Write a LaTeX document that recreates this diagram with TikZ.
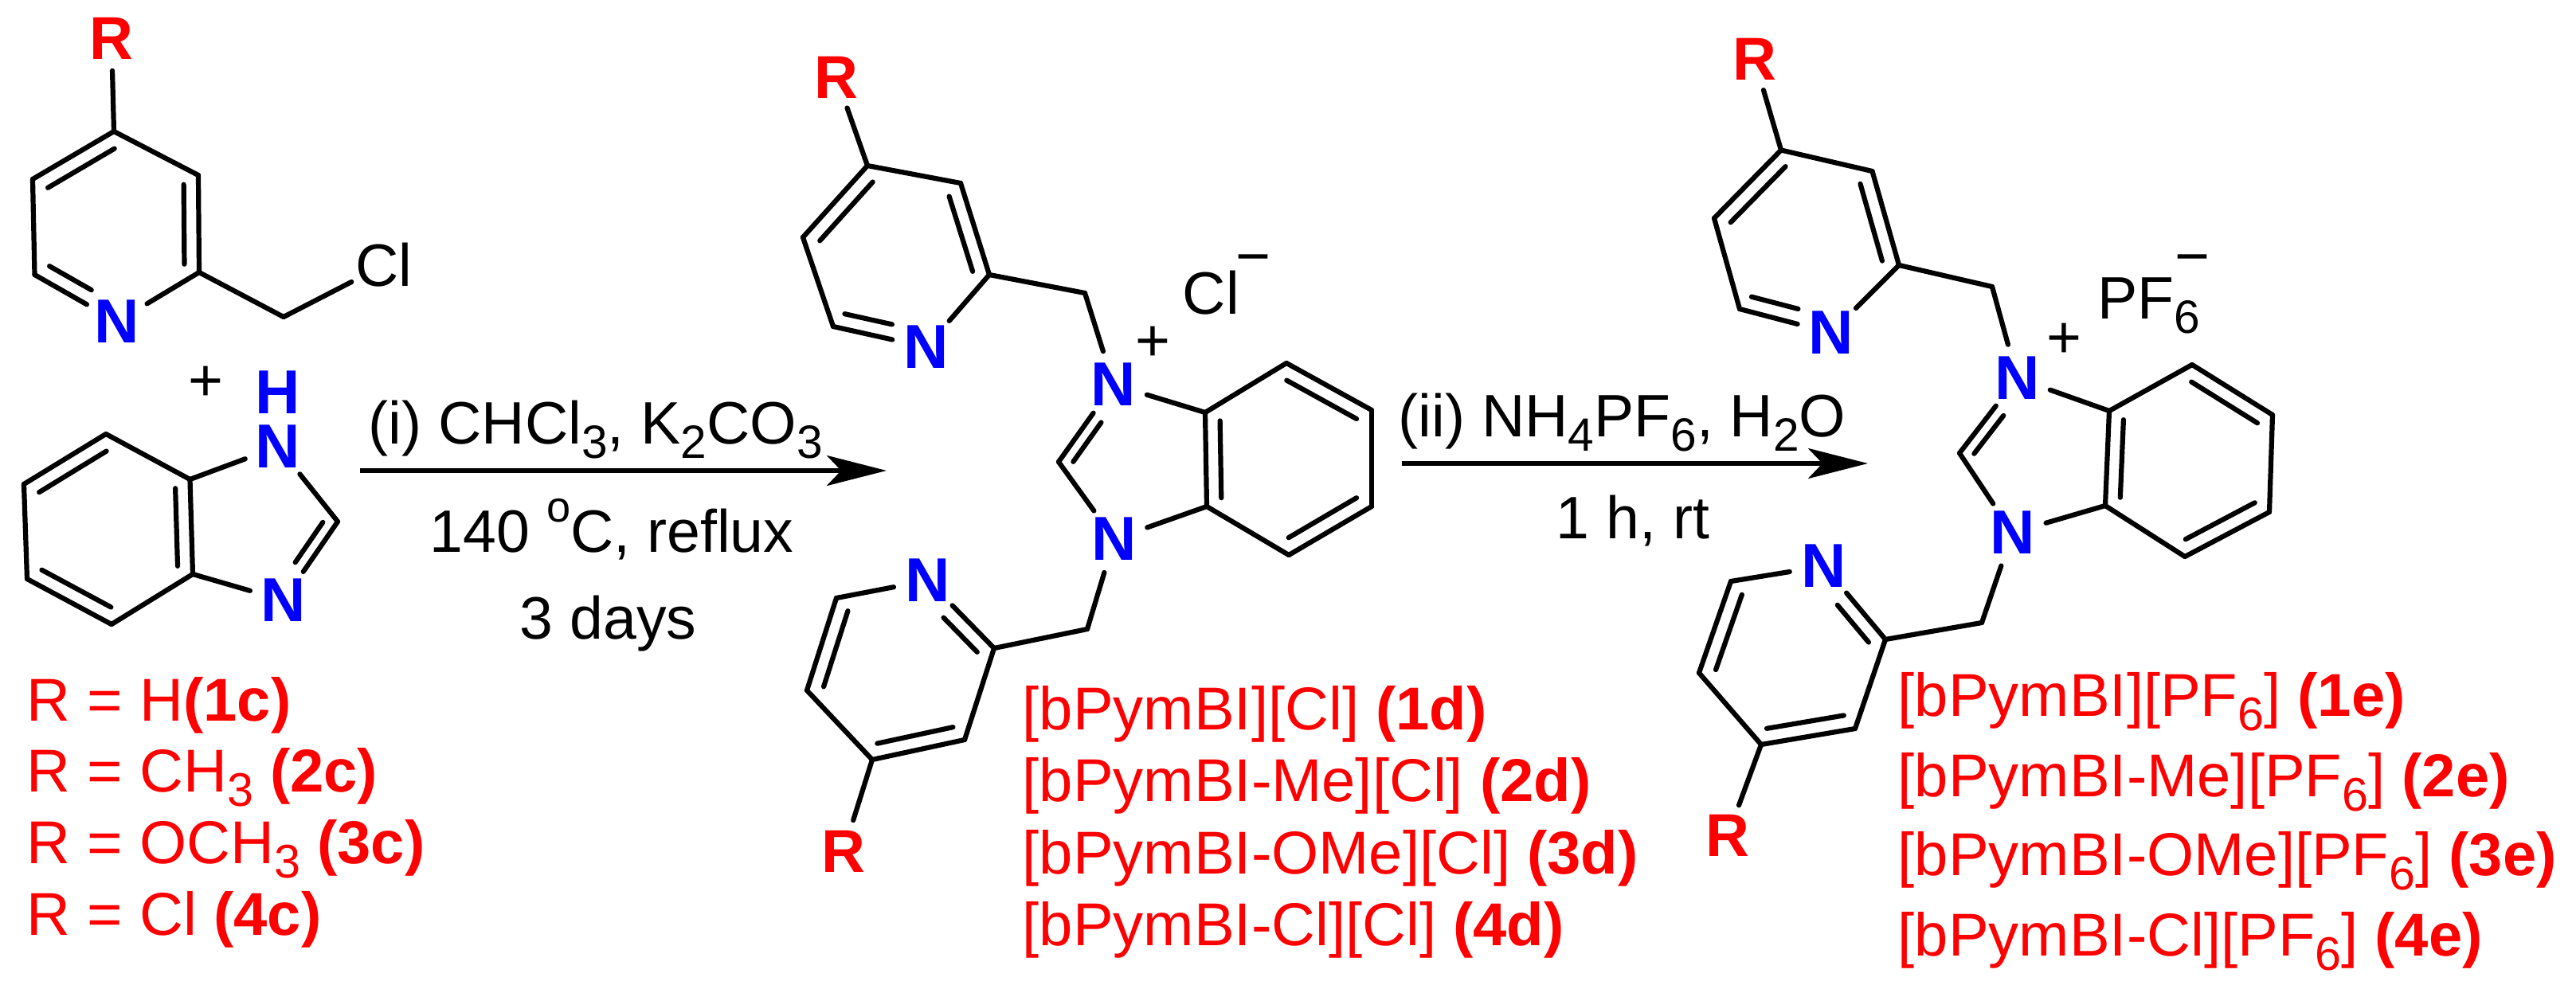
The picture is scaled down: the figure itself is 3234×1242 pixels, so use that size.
\documentclass[tikz,border=0pt]{standalone}
\usepackage{fontspec}
\usepackage{tikz}
\usetikzlibrary{calc,arrows.meta}
\setmainfont{Liberation Sans}
\definecolor{rgroup}{RGB}{255, 0, 0}
\definecolor{nitrogen}{RGB}{0, 0, 255}
\newcommand{\lowr}[1]{\raisebox{-.24em}{\scalebox{.78}{#1}}}
\newcommand{\uppr}[1]{\raisebox{.5em}{\scalebox{.72}{#1}}}
% ring double bond, the inner line leans to the ring centre
\newcommand{\dbond}[3]{%
	\draw[bond](#1) -- (#2);
	\draw[bond]($(#1)!.18!(#3)$) -- ($(#2)!.18!(#3)$);}
% same, but #2 is a labelled atom and the inner line stops short of it
\newcommand{\nbond}[3]{%
	\draw[bond](#1) -- (#2);
	\draw[bond]($(#1)!.18!(#3)$) -- ($($(#1)!.18!(#3)$)!.62!($(#2)!.18!(#3)$)$);}
\tikzset{
	bond/.style={line width=1.55pt, line cap=round},
	rxn/.style={line width=1.35pt, -{Stealth[length=18.75pt,width=9.5pt,inset=4.5pt]}},
	natom/.style={circle, inner sep=0, minimum size=21.5pt, color=nitrogen, font=\fontsize{19.5}{20}\selectfont\bfseries},
	hatom/.style={inner sep=0, color=nitrogen, font=\fontsize{19.5}{20}\selectfont\bfseries},
	ratom/.style={circle, inner sep=0, minimum size=20pt, color=rgroup, font=\fontsize{19}{20}\selectfont\bfseries},
	clatom/.style={circle, inner sep=0, minimum size=22pt, font=\fontsize{18.8}{20}\selectfont},
	txt/.style={anchor=base west, inner sep=0, font=\fontsize{18.8}{20}\selectfont},
	redtxt/.style={anchor=base west, inner sep=0, color=rgroup, font=\fontsize{19}{20}\selectfont}
}
\begin{document}
\begin{tikzpicture}[x=0.25pt,y=-0.25pt]
	\useasboundingbox (0,0) rectangle (3234,1242);

	% chloromethyl pyridine
	\node[ratom] (ar) at (140,48) {R};
	\node[natom] (an) at (147,404) {N};
	\node[clatom] (acl) at (482,333) {Cl};
	\coordinate (a2) at (250,342);
	\coordinate (a3) at (249,220);
	\coordinate (a4) at (143,165);
	\coordinate (a5) at (41,225);
	\coordinate (a6) at (43.5,345);
	\coordinate (am) at (356,398);
	\coordinate (ac) at (147,285);
	\draw[bond](ar) -- (a4);
	\dbond{a4}{a5}{ac}
	\dbond{a3}{a2}{ac}
	\nbond{a6}{an}{ac}
	\draw[bond](a4) -- (a3);
	\draw[bond](a5) -- (a6);
	\draw[bond](a2) -- (an);
	\draw[bond](a2) -- (am);
	\draw[bond](am) -- (acl);

	\node[txt] (plus) at (236,503) {+};

	% benzimidazole
	\node[natom, minimum size=0pt] (bn1) at (349,561) {N};
	\node[hatom] (bh) at (349,493) {H};
	\node[natom] (bn3) at (356,754) {N};
	\coordinate (b2) at (424,655);
	\coordinate (b3a) at (242,721);
	\coordinate (b7a) at (238.5,602);
	\coordinate (b7) at (133,545);
	\coordinate (b6) at (30,608);
	\coordinate (b5) at (34,727);
	\coordinate (b4) at (140,784);
	\coordinate (bc) at (136.5,664.5);
	\coordinate (bi) at (320,660);
	\draw[bond, shorten <=1.1pt](bn1) -- (b2);
	\nbond{b2}{bn3}{bi}
	\draw[bond](bn3) -- (b3a);
	\draw[bond, shorten <=1.1pt](bn1) -- (b7a);
	\dbond{b7a}{b3a}{bc}
	\draw[bond](b7a) -- (b7);
	\dbond{b7}{b6}{bc}
	\draw[bond](b6) -- (b5);
	\dbond{b5}{b4}{bc}
	\draw[bond](b4) -- (b3a);

	% R list, left
	\node[redtxt] (l1c) at (33,905) {R = H\textbf{(1c)}};
	\node[redtxt] (l2c) at (33,994) {R = CH\lowr{3} \textbf{(2c)}};
	\node[redtxt] (l3c) at (33,1084) {R = OCH\lowr{3} \textbf{(3c)}};
	\node[redtxt] (l4c) at (33,1174) {R = Cl \textbf{(4c)}};

	% first step
	\coordinate (s1) at (452,591);
	\coordinate (t1) at (1113,591);
	\draw[rxn](s1) -- (t1);
	\node[txt] (i1) at (462,557) {(i) CHCl\lowr{3}, K\lowr{2}CO\lowr{3}};
	\node[txt] (i2) at (539,693) {140 \uppr{o}C, reflux};
	\node[txt] (i3) at (652,802) {3 days};

	% chloride salt, upper pyridine
	\node[ratom] (dr) at (1050,97) {R};
	\node[natom] (dn) at (1163,436) {N};
	\coordinate (d2) at (1242,345);
	\coordinate (d3) at (1206,230);
	\coordinate (d4) at (1089,208);
	\coordinate (d5) at (1008,298);
	\coordinate (d6) at (1046,410);
	\coordinate (dm) at (1362,368);
	\coordinate (dc) at (1126,322);
	\draw[bond](dr) -- (d4);
	\dbond{d4}{d5}{dc}
	\dbond{d3}{d2}{dc}
	\nbond{d6}{dn}{dc}
	\draw[bond](d4) -- (d3);
	\draw[bond](d5) -- (d6);
	\draw[bond](d2) -- (dn);
	\draw[bond](d2) -- (dm);

	% chloride salt, benzimidazolium
	\node[natom] (dn1) at (1398,483) {N};
	\node[natom] (dn3) at (1399,677) {N};
	\coordinate (dci) at (1329,580);
	\coordinate (dt) at (1513,518);
	\coordinate (db) at (1515,636);
	\coordinate (d7) at (1615,456);
	\coordinate (d8) at (1722,515);
	\coordinate (d9) at (1722,636);
	\coordinate (d10) at (1618,697);
	\coordinate (di) at (1431,579);
	\coordinate (dz) at (1616.5,576);
	\draw[bond](dm) -- (dn1);
	\nbond{dci}{dn1}{di}
	\draw[bond](dci) -- (dn3);
	\draw[bond](dn1) -- (dt);
	\draw[bond](dn3) -- (db);
	\dbond{dt}{db}{dz}
	\draw[bond](dt) -- (d7);
	\dbond{d7}{d8}{dz}
	\draw[bond](d8) -- (d9);
	\dbond{d9}{d10}{dz}
	\draw[bond](d10) -- (db);
	\node[txt] (dplus) at (1425,453) {+};
	\node[txt] (dcl) at (1484,394) {Cl};
	\node[txt] (dminus) at (1551,347) {−};

	% chloride salt, lower pyridine
	\node[ratom] (er) at (1059,1069) {R};
	\node[natom] (en) at (1165,729) {N};
	\coordinate (e2) at (1248,814);
	\coordinate (e3) at (1211,929);
	\coordinate (e4) at (1095,954);
	\coordinate (e5) at (1013,867);
	\coordinate (e6) at (1050,751);
	\coordinate (em) at (1365,790);
	\coordinate (ec) at (1130,841);
	\draw[bond](er) -- (e4);
	\dbond{e4}{e3}{ec}
	\dbond{e5}{e6}{ec}
	\nbond{e2}{en}{ec}
	\draw[bond](e3) -- (e2);
	\draw[bond](e5) -- (e4);
	\draw[bond](e6) -- (en);
	\draw[bond](e2) -- (em);
	\draw[bond](em) -- (dn3);

	% names, chloride salts
	\node[redtxt] (l1d) at (1283,916) {[bPymBI][Cl] \textbf{(1d)}};
	\node[redtxt] (l2d) at (1283,1006) {[bPymBI-Me][Cl] \textbf{(2d)}};
	\node[redtxt] (l3d) at (1283,1097) {[bPymBI-OMe][Cl] \textbf{(3d)}};
	\node[redtxt] (l4d) at (1283,1187) {[bPymBI-Cl][Cl] \textbf{(4d)}};

	% second step
	\coordinate (s2) at (1760,582);
	\coordinate (t2) at (2345,582);
	\draw[rxn](s2) -- (t2);
	\node[txt] (j1) at (1755,548) {(ii) NH\lowr{4}PF\lowr{6}, H\lowr{2}O};
	\node[txt] (j2) at (1953,676) {1 h, rt};

	% hexafluorophosphate salt, upper pyridine
	\node[ratom] (fr) at (2202.5,74) {R};
	\node[natom] (fn) at (2299,418) {N};
	\coordinate (f2) at (2384,333);
	\coordinate (f3) at (2350.5,215);
	\coordinate (f4) at (2236,188.5);
	\coordinate (f5) at (2152,274);
	\coordinate (f6) at (2184,388);
	\coordinate (fm) at (2501,360);
	\coordinate (fc) at (2267,303);
	\draw[bond](fr) -- (f4);
	\dbond{f4}{f5}{fc}
	\dbond{f3}{f2}{fc}
	\nbond{f6}{fn}{fc}
	\draw[bond](f4) -- (f3);
	\draw[bond](f5) -- (f6);
	\draw[bond](f2) -- (fn);
	\draw[bond](f2) -- (fm);

	% hexafluorophosphate salt, benzimidazolium
	\node[natom] (fn1) at (2532.5,475) {N};
	\node[natom] (fn3) at (2526.5,669) {N};
	\coordinate (fci) at (2460,569);
	\coordinate (ft) at (2648,516);
	\coordinate (fb) at (2643,635);
	\coordinate (f7) at (2752,458);
	\coordinate (f8) at (2853,521);
	\coordinate (f9) at (2849,643);
	\coordinate (f10) at (2743,699);
	\coordinate (fi) at (2562,573);
	\coordinate (fz) at (2747.5,578);
	\draw[bond](fm) -- (fn1);
	\nbond{fci}{fn1}{fi}
	\draw[bond](fci) -- (fn3);
	\draw[bond](fn1) -- (ft);
	\draw[bond](fn3) -- (fb);
	\dbond{ft}{fb}{fz}
	\draw[bond](ft) -- (f7);
	\dbond{f7}{f8}{fz}
	\draw[bond](f8) -- (f9);
	\dbond{f9}{f10}{fz}
	\draw[bond](f10) -- (fb);
	\node[txt] (fplus) at (2569,449) {+};
	\node[txt] (fpf) at (2633,400) {PF\lowr{6}};
	\node[txt] (fminus) at (2730,347) {−};

	% hexafluorophosphate salt, lower pyridine
	\node[ratom] (gr) at (2169,1049.5) {R};
	\node[natom] (gn) at (2290,711) {N};
	\coordinate (g2) at (2367,803);
	\coordinate (g3) at (2329,915);
	\coordinate (g4) at (2211,935);
	\coordinate (g5) at (2133,845);
	\coordinate (g6) at (2173,730);
	\coordinate (gm) at (2488,782);
	\coordinate (gc) at (2250,823);
	\draw[bond](gr) -- (g4);
	\dbond{g4}{g3}{gc}
	\dbond{g5}{g6}{gc}
	\nbond{g2}{gn}{gc}
	\draw[bond](g3) -- (g2);
	\draw[bond](g5) -- (g4);
	\draw[bond](g6) -- (gn);
	\draw[bond](g2) -- (gm);
	\draw[bond](gm) -- (fn3);

	% names, hexafluorophosphate salts
	\node[redtxt] (l1e) at (2382,899) {[bPymBI][PF\lowr{6}] \textbf{(1e)}};
	\node[redtxt] (l2e) at (2382,1000) {[bPymBI-Me][PF\lowr{6}] \textbf{(2e)}};
	\node[redtxt] (l3e) at (2382,1099) {[bPymBI-OMe][PF\lowr{6}] \textbf{(3e)}};
	\node[redtxt] (l4e) at (2382,1200) {[bPymBI-Cl][PF\lowr{6}] \textbf{(4e)}};
\end{tikzpicture}
\end{document}
